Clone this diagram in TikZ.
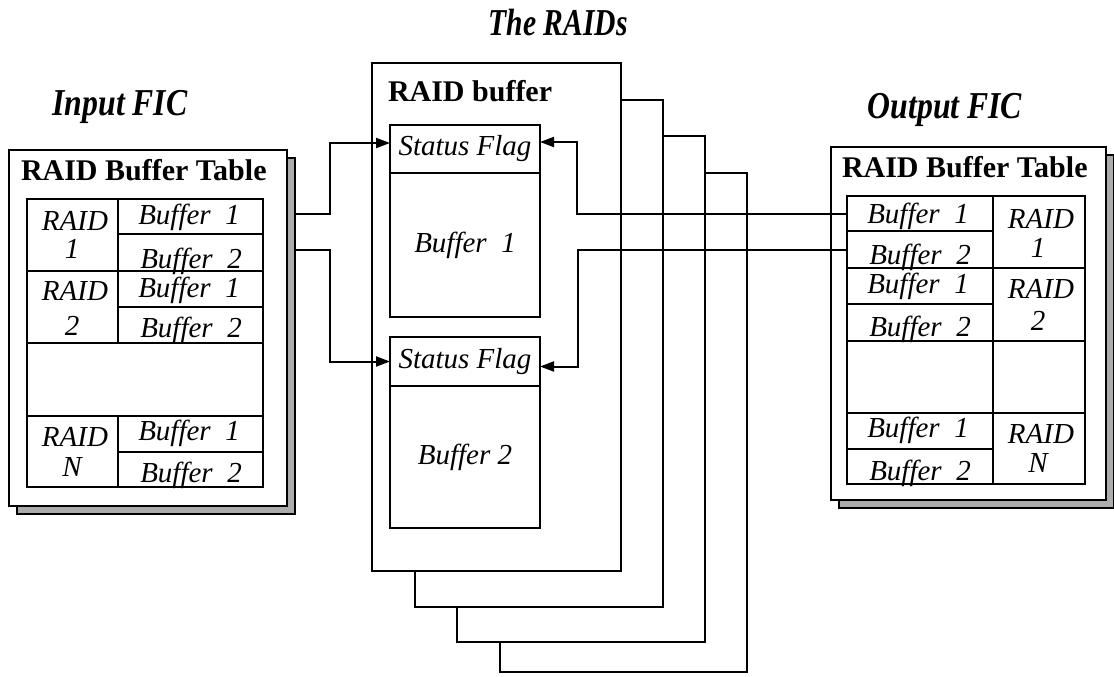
\documentclass[tikz,border=0pt]{standalone}
\usepackage{fontspec}
\setmainfont{Liberation Serif}
\usetikzlibrary{arrows.meta}
\begin{document}
\begin{tikzpicture}[x=1pt,y=-1pt,line width=2pt,
  title/.style={font=\fontsize{38}{42}\selectfont\bfseries\itshape,inner sep=0pt,anchor=base},
  head/.style={font=\fontsize{30}{33}\selectfont\bfseries,inner sep=0pt,anchor=base west},
  cell/.style={font=\fontsize{29}{32}\selectfont\itshape,inner sep=0pt,anchor=base},
  panel/.style={draw,fill=white,inner sep=0pt,outer sep=0pt,anchor=north west},
  shadowbox/.style={draw,fill=gray!65,line width=1.5pt,inner sep=0pt,outer sep=0pt,anchor=north west},
  raidbox/.style={draw,fill=white,inner sep=0pt,outer sep=0pt,anchor=north west},
  flagbox/.style={draw,fill=white,inner sep=0pt,outer sep=0pt,minimum width=150pt,
    font=\fontsize{29}{32}\selectfont\itshape},
  arr/.style={-{Triangle[length=14pt,width=10pt]},line width=2pt}]
\useasboundingbox (0,0) rectangle (1114,677);

% ---- titles ----
\node[title] (tRaids) at (558,36) {\scalebox{0.78}[1]{The RAIDs}};
\node[title] (tIn) at (120,115) {\scalebox{0.835}[1]{Input FIC}};
\node[title] (tOut) at (945,118) {\scalebox{0.835}[1]{Output FIC}};

% ---- input FIC panel ----
\node[shadowbox,minimum width=278pt,minimum height=356pt] (inShadow) at (17,158) {};
\node[panel,minimum width=278pt,minimum height=356pt] (inPanel) at (9,150) {};
\node[head] (inHead) at (20,180) {RAID Buffer Table};
\draw (27,199) rectangle (263,487);
\draw (27,271) -- (263,271) (27,343) -- (263,343) (27,416) -- (263,416);
\draw (118,199) -- (118,343) (118,416) -- (118,487);
\draw (118,234) -- (263,234) (118,307) -- (263,307) (118,452) -- (263,452);
\node[cell] (inR1) at (75,230) {RAID};
\node[cell] (inR1n) at (72,258) {1};
\node[cell] (inR2) at (75,300) {RAID};
\node[cell] (inR2n) at (72,335) {2};
\node[cell] (inRN) at (75,446) {RAID};
\node[cell] (inRNn) at (72,476) {N};
\node[cell] (inB11) at (189,224) {Buffer\ \ 1};
\node[cell] (inB12) at (191,268) {Buffer\ \ 2};
\node[cell] (inB21) at (189,297) {Buffer\ \ 1};
\node[cell] (inB22) at (191,337) {Buffer\ \ 2};
\node[cell] (inBN1) at (189,440) {Buffer\ \ 1};
\node[cell] (inBN2) at (191,482) {Buffer\ \ 2};

% ---- output FIC panel ----
\node[shadowbox,minimum width=275pt,minimum height=353pt] (outShadow) at (839,155) {};
\node[panel,minimum width=275pt,minimum height=353pt] (outPanel) at (831,147) {};
\node[head] (outHead) at (841,177) {RAID Buffer Table};
\draw (847,196) rectangle (1085,484);
\draw (847,268) -- (1085,268) (847,341) -- (1085,341) (847,413) -- (1085,413);
\draw (993,196) -- (993,484);
\draw (847,231) -- (993,231) (847,304) -- (993,304) (847,449) -- (993,449);
\node[cell] (outB11) at (918,223) {Buffer\ \ 1};
\node[cell] (outB12) at (920,264) {Buffer\ \ 2};
\node[cell] (outB21) at (918,293) {Buffer\ \ 1};
\node[cell] (outB22) at (920,336) {Buffer\ \ 2};
\node[cell] (outBN1) at (918,437) {Buffer\ \ 1};
\node[cell] (outBN2) at (920,480) {Buffer\ \ 2};
\node[cell] (outR1) at (1041,228) {RAID};
\node[cell] (outR1n) at (1038,257) {1};
\node[cell] (outR2) at (1041,298) {RAID};
\node[cell] (outR2n) at (1038,330) {2};
\node[cell] (outRN) at (1041,443) {RAID};
\node[cell] (outRNn) at (1038,472) {N};

% ---- stack of RAID buffers, back to front ----
\node[raidbox,minimum width=247pt,minimum height=499pt] (raid4) at (500,173) {};
\node[raidbox,minimum width=248pt,minimum height=506pt] (raid3) at (457,136) {};
\node[raidbox,minimum width=248pt,minimum height=507pt] (raid2) at (415,100) {};
\node[raidbox,minimum width=249pt,minimum height=508pt] (raid1) at (372,63) {};
\node[head] (raidHead) at (387,102) {RAID buffer};

\node[flagbox,minimum height=48pt,anchor=north west] (flag1) at (390,125) {Status Flag};
\node[flagbox,minimum height=144pt,anchor=north] (buf1) at (flag1.south) {Buffer\ \ 1};
\node[flagbox,minimum height=49pt,anchor=north west] (flag2) at (390,337) {Status Flag};
\node[flagbox,minimum height=142pt,anchor=north] (buf2) at (flag2.south) {Buffer 2};

% ---- connectors ----
\coordinate (inC1) at (296,214);
\coordinate (inC2) at (296,250);
\coordinate (outC1) at (847,214);
\coordinate (outC2) at (847,250);
\draw[arr] (inC1) -- ++(34,0) |- ([yshift=6pt]flag1.west);
\draw[arr] (inC2) -- ++(34,0) |- (flag2.west);
\draw[arr] (outC1) -- ++(-270,0) |- ([yshift=7pt]flag1.east);
\draw[arr] (outC2) -- ++(-269,0) |- ([yshift=-5pt]flag2.east);
\end{tikzpicture}
\end{document}
